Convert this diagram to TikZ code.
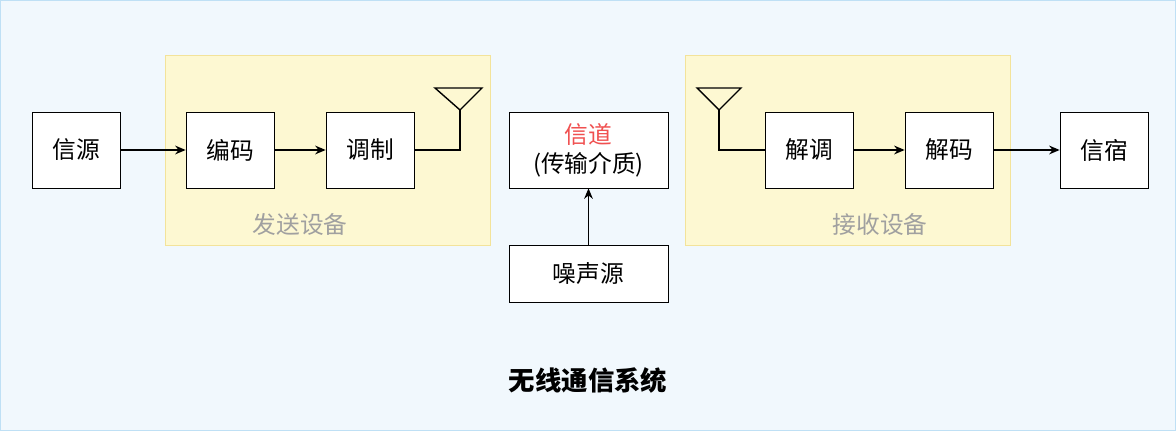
\documentclass[tikz,border=0pt]{standalone}
\usepackage{fontspec}
\setmainfont{Noto Sans CJK SC}
\usetikzlibrary{arrows.meta, positioning}
\definecolor{bgblue}{HTML}{F1F8FD}
\definecolor{bgline}{HTML}{BFE0F5}
\definecolor{boxyel}{HTML}{FDF8D2}
\definecolor{lineyel}{HTML}{F3E39A}
\definecolor{labgray}{HTML}{A0A0A0}
\definecolor{chred}{HTML}{F05050}
\tikzset{
	blk/.style={draw, fill=white, minimum width=1.76cm, minimum height=1.52cm, font=\fontsize{13.5}{16.5}\selectfont},
	grp/.style={draw=lineyel, fill=boxyel},
	arr/.style={-{Stealth[length=6pt, width=5pt]}, line width=0.8pt},
	ant/.style={line width=0.8pt}
}
\begin{document}
\begin{tikzpicture}[x=0.02cm, y=-0.02cm]
	
	% 背景
	\draw[bgline, fill=bgblue] (0.5, 0.5) rectangle (1175.5, 430.5);
	\useasboundingbox (0, 0) rectangle (1176, 431);
	
	% 发送设备 / 接收设备
	\draw[grp] (165, 55) rectangle (490, 245);
	\draw[grp] (685, 55) rectangle (1010, 245);
	\node[text=labgray, font=\fontsize{13.5}{16}\selectfont] (txlab) at (300, 224) {发送设备};
	\node[text=labgray, font=\fontsize{13.5}{16}\selectfont] (rxlab) at (880, 224) {接收设备};
	
	% 方框
	\node[blk] (src) at (76, 150) {信源};
	\node[blk] (enc) at (230, 150) {编码};
	\node[blk] (mod) at (370, 150) {调制};
	\node[blk, minimum width=3.18cm, align=center] (chan) at (588.5, 150) {\textcolor{chred}{信道}\\(传输介质)};
	\node[blk, minimum width=3.18cm, minimum height=1.14cm] (noise) at (588.5, 273.5) {噪声源};
	\node[blk] (demod) at (809, 150) {解调};
	\node[blk] (dec) at (949, 150) {解码};
	\node[blk] (sink) at (1104, 150) {信宿};
	
	% 发射天线
	\coordinate (tA) at (460, 110);
	\draw[ant] (mod.east) -- (460, 150) -- (tA);
	\draw[ant] (435, 88) -- (tA) -- (482, 88) -- cycle;
	
	% 接收天线
	\coordinate (rA) at (719, 110);
	\draw[ant] (697, 88) -- (rA) -- (741, 88) -- cycle;
	\draw[ant] (rA) -- (719, 150) -- (demod.west);
	
	% 连线
	\draw[arr] (src) -- (enc);
	\draw[arr] (enc) -- (mod);
	\draw[arr] (noise) -- (chan);
	\draw[arr] (demod) -- (dec);
	\draw[arr] (dec) -- (sink);
	
	% 标题
	\node[font=\fontsize{15}{18}\selectfont\bfseries] (title) at (588, 380) {无线通信系统};
	
\end{tikzpicture}
\end{document}
